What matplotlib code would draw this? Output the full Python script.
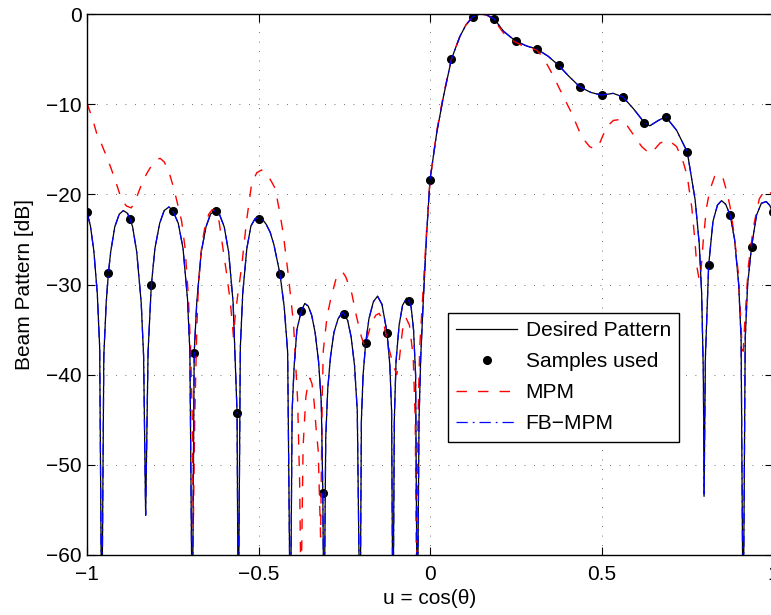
import numpy as np
import matplotlib
matplotlib.use("Agg")
import matplotlib.pyplot as plt

plt.rcParams['font.family'] = ['Liberation Sans', 'DejaVu Sans']

# Desired pattern, u and dB
desired_u = [-1.0, -0.99, -0.98, -0.97, -0.963, -0.957,
             -0.951, -0.944, -0.9375, -0.931, -0.919, -0.906, -0.894, -0.882, -0.875, -0.867, -0.855, -0.842, -0.835, -0.829,
             -0.822, -0.8125, -0.802, -0.788, -0.775, -0.761, -0.75, -0.734, -0.72, -0.707, -0.700, -0.693,
             -0.6875, -0.680, -0.667, -0.653, -0.640, -0.627, -0.614, -0.600, -0.587, -0.574, -0.5625, -0.559,
             -0.553, -0.546, -0.534, -0.522, -0.51, -0.5, -0.49, -0.478, -0.466, -0.455, -0.4375, -0.425, -0.415, -0.407,
             -0.402, -0.396, -0.388, -0.375, -0.365, -0.355, -0.345, -0.335, -0.325, -0.317, -0.3125, -0.309,
             -0.304, -0.298, -0.29, -0.28, -0.268, -0.256, -0.25, -0.24, -0.23, -0.22, -0.212, -0.204,
             -0.2, -0.195, -0.1875, -0.178, -0.165, -0.153, -0.14, -0.125, -0.117, -0.112, -0.108,
             -0.104, -0.099, -0.09, -0.08, -0.068, -0.0625, -0.055, -0.048, -0.042, -0.037,
             -0.032, -0.027, -0.0195, -0.0097, 0.0, 0.0195, 0.039, 0.0625, 0.087, 0.105, 0.125, 0.146, 0.165, 0.1875,
             0.214, 0.233, 0.25, 0.282, 0.3125, 0.345, 0.375, 0.406, 0.4375, 0.469, 0.5, 0.534, 0.5625, 0.593, 0.625,
             0.641, 0.666, 0.6875, 0.719, 0.75, 0.773, 0.785, 0.792, 0.797, 0.799, 0.803, 0.8125, 0.825, 0.838, 0.85,
             0.862, 0.875, 0.888, 0.9, 0.907, 0.913, 0.919, 0.926, 0.9375, 0.952, 0.966, 0.98, 0.99, 1.0]
desired_db = [-22.0, -23.5, -26.3, -31.0, -37.0, -70,
              -37.9, -32.0, -28.7, -26.4, -23.6, -22.2, -21.8, -22.1, -22.7, -23.6, -26.4, -32.0, -37.9, -55.6,
              -37.5, -30.1, -26.0, -23.2, -21.8, -21.4, -21.8, -23.2, -26.0, -31.6, -37.5, -70,
              -37.6, -32.0, -26.4, -23.6, -22.2, -21.8, -22.2, -23.6, -26.4, -32.0, -44.2, -70,
              -37.0, -31.0, -26.0, -23.5, -22.7, -22.6, -22.7, -23.3, -24.2, -25.6, -28.8, -32.5, -37.5, -70,
              -44.0, -39.0, -35.0, -32.9, -32.1, -32.4, -33.4, -35.3, -38.5, -43.0, -53.1, -70,
              -47.0, -41.5, -38.0, -35.3, -33.8, -33.1, -33.3, -34.0, -35.8, -39.0, -44.0, -70,
              -45.0, -40.0, -36.5, -33.8, -31.9, -31.3, -32.2, -35.4, -39.0, -44.0, -70,
              -45.0, -38.5, -34.5, -32.3, -31.5, -31.7, -32.5, -35.0, -40.0, -70,
              -45.0, -38.0, -31.7, -24.3, -18.4, -13.2, -9.2, -5.0, -2.5, -1.2, -0.3, 0.0, -0.1, -0.55,
              -1.9, -2.5, -3.0, -3.55, -3.9, -4.7, -5.7, -6.95, -8.1, -8.7, -9.0, -8.8, -9.2, -10.5, -12.05,
              -12.4, -11.8, -11.4, -12.9, -15.3, -20.6, -25.5, -31.0, -40.0, -53.5, -38.0, -27.8, -23.0, -21.2, -20.7,
              -21.1, -22.3, -25.0, -30.0, -36.0, -70, -36.0, -30.0, -25.8, -22.3, -21.0, -20.8, -21.2, -22.0]

# samples used
sample_u = [-1.0, -0.9375, -0.875, -0.8125, -0.75, -0.6875, -0.625, -0.5625, -0.5, -0.4375, -0.375,
            -0.3125, -0.25, -0.1875, -0.125, -0.0625, 0.0, 0.0625, 0.125, 0.1875, 0.25, 0.3125,
            0.375, 0.4375, 0.5, 0.5625, 0.625, 0.6875, 0.75, 0.8125, 0.875, 0.9375, 1.0]
sample_db = [-22.0, -28.7, -22.7, -30.1, -21.8, -37.6, -21.9, -44.2, -22.7, -28.8, -32.9,
             -53.1, -33.3, -36.5, -35.4, -31.8, -18.4, -5.0, -0.3, -0.55, -3.0, -3.9,
             -5.7, -8.1, -9.0, -9.2, -12.05, -11.4, -15.3, -27.8, -22.3, -25.8, -22.0]

# MPM estimate
mpm_u = [-1.0, -0.985, -0.972, -0.957, -0.943, -0.93, -0.918, -0.899, -0.885, -0.871, -0.862, -0.855,
         -0.84, -0.826, -0.81, -0.797, -0.787, -0.775, -0.762, -0.748, -0.735, -0.724, -0.714, -0.705,
         -0.698, -0.693, -0.69, -0.686, -0.68, -0.675, -0.665, -0.656, -0.645, -0.635, -0.627, -0.615,
         -0.603, -0.593, -0.583, -0.577, -0.573, -0.568, -0.56, -0.549, -0.535, -0.52, -0.505, -0.491,
         -0.475, -0.462, -0.452, -0.44, -0.428, -0.413, -0.398, -0.386, -0.38, -0.376, -0.37, -0.362,
         -0.355, -0.35, -0.344, -0.338, -0.332, -0.326, -0.319, -0.314, -0.311, -0.3, -0.29, -0.275,
         -0.262, -0.255, -0.245, -0.235, -0.228, -0.214, -0.2, -0.19, -0.18, -0.17, -0.158, -0.148,
         -0.135, -0.121, -0.108, -0.097, -0.09, -0.08, -0.07, -0.06, -0.049, -0.043, -0.039, -0.035,
         -0.03, -0.02, -0.01, 0.0, 0.0195, 0.039, 0.0625, 0.087, 0.105, 0.125, 0.146, 0.165, 0.1875,
         0.214, 0.233, 0.257, 0.272, 0.295, 0.311, 0.325, 0.34, 0.36, 0.379, 0.413, 0.442, 0.465, 0.481,
         0.495, 0.515, 0.535, 0.555, 0.575, 0.597, 0.617, 0.641, 0.655, 0.671, 0.695, 0.719, 0.739,
         0.75, 0.763, 0.772, 0.778, 0.785, 0.79, 0.797, 0.806, 0.816, 0.83, 0.843, 0.855, 0.866, 0.875,
         0.887, 0.899, 0.909, 0.913, 0.918, 0.928, 0.943, 0.96, 0.977, 0.99, 1.0]
mpm_db = [-9.9, -11.5, -13.2, -14.5, -15.8, -17.1, -18.4, -20.6, -21.3, -21.5, -21.0, -20.3,
          -18.8, -17.7, -16.7, -16.2, -16.0, -16.4, -17.4, -19.2, -21.2, -23.0, -26.0, -31.0,
          -37.0, -45.0, -57.0, -45.0, -35.0, -29.9, -25.5, -23.6, -22.2, -21.7, -21.8, -23.0,
          -26.2, -28.8, -31.7, -34.0, -35.8, -33.5, -31.0, -28.0, -23.0, -18.8, -17.6, -17.3,
          -17.8, -18.6, -19.3, -21.6, -24.3, -29.0, -34.3, -42.8, -52.0, -65, -48.0, -42.5,
          -40.8, -40.4, -41.0, -43.0, -46.0, -48.4, -58.0, -42.0, -37.3, -33.5, -31.7, -29.5,
          -28.7, -28.6, -29.2, -30.3, -31.0, -33.6, -35.8, -36.9, -35.5, -34.2, -33.4, -33.2,
          -34.3, -36.9, -38.8, -40.0, -38.5, -35.0, -33.7, -34.5, -38.0, -45.0, -65, -45.0,
          -37.0, -30.5, -24.0, -18.5, -13.0, -9.0, -5.0, -2.5, -1.2, -0.3, 0.0, -0.1, -0.7,
          -2.1, -2.8, -3.25, -3.6, -3.8, -4.0, -4.6, -5.5, -6.9, -8.4, -11.0, -13.6, -14.7, -15.0,
          -14.3, -12.5, -11.8, -11.7, -12.4, -13.6, -14.7, -15.5, -15.0, -14.3, -14.0, -14.7, -16.5,
          -18.0, -21.4, -25.0, -28.0, -29.5, -28.5, -25.0, -21.5, -19.5, -18.0, -17.7, -18.3, -19.8, -21.4,
          -24.5, -28.8, -36.2, -37.4, -34.0, -28.0, -23.6, -20.5, -19.5, -19.7, -20.2]

# FB-MPM lies on top of the desired pattern
fbmpm_u = list(desired_u)
fbmpm_db = list(desired_db)

fs = 15

fig = plt.figure(figsize=(7.71, 6.15), dpi=100)
ax = fig.add_axes([87/771, 60/615, 686/771, 541/615])

ax.plot(desired_u, desired_db, color='k', lw=0.9, label='Desired Pattern')
ax.plot(sample_u, sample_db, 'k.', ms=11, label='Samples used')
ax.plot(mpm_u, mpm_db, color='r', lw=1.0, dashes=(7.5, 8), label='MPM')
ax.plot(fbmpm_u, fbmpm_db, color='b', lw=0.9, dashes=(9, 4, 1.4, 4), label='FB\u2212MPM')

ax.set_xlim(-1, 1)
ax.set_ylim(-60, 0)
ax.set_xticks([-1, -0.5, 0, 0.5, 1])
ax.set_xticklabels(['\u22121', '\u22120.5', '0', '0.5', '1'])
ax.set_yticks([-60, -50, -40, -30, -20, -10, 0])
ax.set_yticklabels(['\u221260', '\u221250', '\u221240', '\u221230', '\u221220', '\u221210', '0'])
ax.tick_params(direction='in', length=6, width=0.8, top=True, right=True, labelsize=fs)
ax.tick_params(axis='x', pad=7)
ax.tick_params(axis='y', pad=4)
ax.grid(True, color='0.25', linestyle=(0, (1, 10.4)), linewidth=0.6)
for s in ax.spines.values():
    s.set_linewidth(1.0)

ax.set_xlabel('u = cos(\u03b8)', fontsize=fs)
ax.set_ylabel('Beam Pattern [dB]', fontsize=fs)
ax.xaxis.set_label_coords(0.5, -0.063)
ax.yaxis.set_label_coords(-0.077, 0.5)

leg = ax.legend(loc='lower left', bbox_to_anchor=(0.526, 0.209), fontsize=fs,
                fancybox=False, edgecolor='k', framealpha=1, handlelength=2.9,
                handletextpad=0.42, labelspacing=0.58, borderpad=0.41, borderaxespad=0)
leg.get_frame().set_linewidth(1.0)

fig.savefig('out.png', dpi=100)
